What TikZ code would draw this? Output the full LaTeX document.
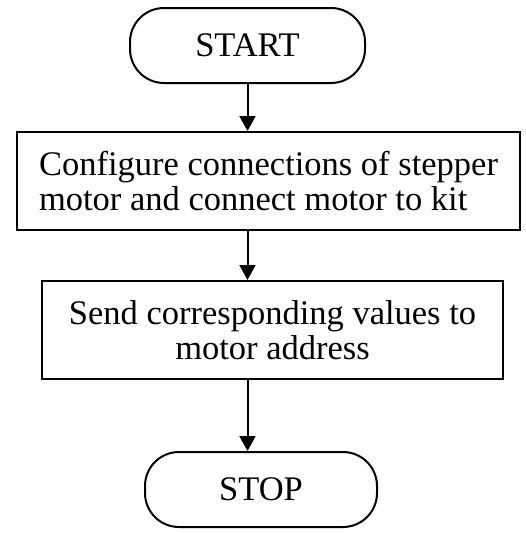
\documentclass[tikz,border=0pt]{standalone}
\usepackage{fontspec}
\setmainfont{Liberation Serif}
\usetikzlibrary{arrows.meta}
\begin{document}
\begin{tikzpicture}[x=1pt,y=-1pt,
  every node/.style={font=\fontsize{34.5}{35}\selectfont, inner sep=0pt},
  terminal/.style={draw, line width=2pt, rounded corners=34pt},
  process/.style={draw, line width=2pt, align=left},
  flow/.style={line width=2pt, -{Triangle[length=15pt,width=16pt]}}]
  \useasboundingbox[fill=white] (0,0) rectangle (526,533);
  \node[terminal, minimum width=235pt, minimum height=75pt] (start) at (247.5,45.5) {START};
  \node[process, minimum width=503pt, minimum height=98pt] (conf) at (268.5,181)
    {Configure connections of stepper\\motor and connect motor to kit};
  \node[process, align=center, minimum width=461pt, minimum height=98pt] (send) at (272.5,330)
    {Send corresponding values to\\motor address};
  \node[terminal, minimum width=232pt, minimum height=75pt] (stop) at (261,489.5) {STOP};
  \draw[flow] (start.south) -- (start.south |- conf.north);
  \draw[flow] (conf.south -| start.south) -- (send.north -| start.south);
  \draw[flow] (send.south -| start.south) -- (stop.north -| start.south);
\end{tikzpicture}
\end{document}
